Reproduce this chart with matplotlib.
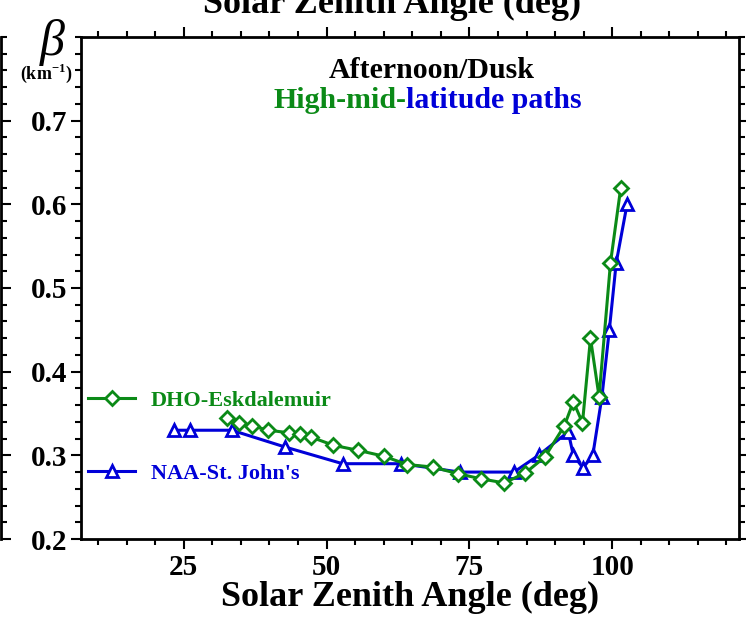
import matplotlib
matplotlib.use('Agg')
import matplotlib.pyplot as plt
from matplotlib.ticker import MultipleLocator, FixedLocator

# DHO-Eskdalemuir path (solar zenith angle, beta)
dho_sza = [32.5, 34.6, 37.0, 39.8, 43.4, 45.3, 47.2, 51.2, 55.5, 60.0, 64.1, 68.6,
           73.0, 77.0, 81.1, 84.8, 88.2, 91.6, 93.2, 94.8, 96.2, 97.7, 99.7, 101.5]
dho_beta = [0.345, 0.339, 0.335, 0.330, 0.327, 0.325, 0.322, 0.312, 0.306, 0.299, 0.289, 0.286,
            0.278, 0.272, 0.267, 0.279, 0.298, 0.335, 0.364, 0.339, 0.44, 0.37, 0.53, 0.62]

# NAA-St. John's path
naa_sza = [23.2, 26.1, 33.4, 42.7, 52.8, 63.1, 73.3, 82.8, 87.1, 92.3, 93.2, 94.9,
           96.6, 98.2, 99.5, 100.7, 102.6]
naa_beta = [0.33, 0.33, 0.33, 0.31, 0.29, 0.29, 0.28, 0.28, 0.30, 0.328, 0.30, 0.285,
            0.30, 0.37, 0.45, 0.53, 0.60]

GREEN = '#0b8a17'
BLUE = '#0000d8'

plt.rcParams['font.family'] = 'Liberation Serif'
plt.rcParams['font.weight'] = 'bold'
plt.rcParams['mathtext.fontset'] = 'custom'
plt.rcParams['mathtext.rm'] = 'Liberation Serif:bold'
plt.rcParams['mathtext.bf'] = 'Liberation Serif:bold'

fig = plt.figure(figsize=(7.46, 6.21), dpi=100)
ax = fig.add_axes([81 / 746, 1 - 539 / 621, (739 - 81) / 746, (539 - 37) / 621])

ax.plot(dho_sza, dho_beta, color=GREEN, lw=2.2, marker='D', ms=7.5, mfc='white',
        mec=GREEN, mew=2, label='DHO-Eskdalemuir', zorder=3)
ax.plot(naa_sza, naa_beta, color=BLUE, lw=2.2, marker='^', ms=8.5, mfc='white',
        mec=BLUE, mew=2, label="NAA-St. John's", zorder=2)

ax.set_xlim(7, 122.2)
ax.set_ylim(0.2, 0.8)
ax.xaxis.set_major_locator(FixedLocator([25, 50, 75, 100]))
ax.xaxis.set_minor_locator(MultipleLocator(5))
ax.yaxis.set_major_locator(FixedLocator([0.2, 0.3, 0.4, 0.5, 0.6, 0.7]))
ax.yaxis.set_minor_locator(MultipleLocator(0.02))
ax.tick_params(which='both', direction='out', top=True, right=True, width=1.5,
               labelsize=21, pad=3)
ax.tick_params(which='major', length=7)
ax.tick_params(which='minor', length=4)
ax.tick_params(axis='x', which='major', pad=4)
ax.set_xticklabels(['25', '50', '75', '100'], fontweight='bold')
ax.set_yticklabels(['0.2', '0.3', '0.4', '0.5', '0.6', '0.7'], fontweight='bold')
for s in ax.spines.values():
    s.set_linewidth(2)

ax.set_xlabel('Solar Zenith Angle (deg)', fontsize=26, fontweight='bold', labelpad=0)

# beta label in the top-left corner
fig.text(52 / 746, 1 - 42 / 621, 'β', fontsize=36, ha='center', va='center',
         fontweight='normal', style='italic')
fig.text(46 / 746, 1 - 73 / 621, r'(km$^{\mathbf{-1}}$)', fontsize=13, ha='center',
         va='center', fontweight='bold')

ax.text(0.533, 0.934, 'Afternoon/Dusk', transform=ax.transAxes, fontsize=21.5,
        fontweight='bold', ha='center', va='center', color='black')
t1 = ax.text(0.292, 0.8745, 'High-mid-', transform=ax.transAxes, fontsize=21.5,
             fontweight='bold', ha='left', va='center', color=GREEN)
ax.annotate('latitude paths', xy=(1, 0.5), xycoords=t1, fontsize=21.5,
            fontweight='bold', ha='left', va='center', color=BLUE)

leg = ax.legend(loc='center left', bbox_to_anchor=(0.0, 0.203), frameon=False,
                fontsize=16, labelspacing=2.35, handlelength=2.15, handletextpad=0.68,
                borderaxespad=0, borderpad=0.3)
for txt, c in zip(leg.get_texts(), [GREEN, BLUE]):
    txt.set_color(c)
    txt.set_fontweight('bold')

# neighbouring panel edge and its axis label at the top
ax0 = fig.add_axes([-0.5, 1 - 539 / 621, 0.5015, (539 - 37) / 621], sharey=ax)
ax0.set_xticks([])
for k in ['left', 'top', 'bottom']:
    ax0.spines[k].set_visible(False)
ax0.spines['right'].set_linewidth(2)
ax0.yaxis.tick_right()
ax0.tick_params(which='both', direction='out', width=1.5, labelright=False)
ax0.tick_params(which='major', length=7)
ax0.tick_params(which='minor', length=4)

fig.text(392 / 746, 1 - 13 / 621, 'Solar Zenith Angle (deg)', fontsize=26,
         fontweight='bold', ha='center', va='baseline')

fig.savefig('out.png', dpi=100)
